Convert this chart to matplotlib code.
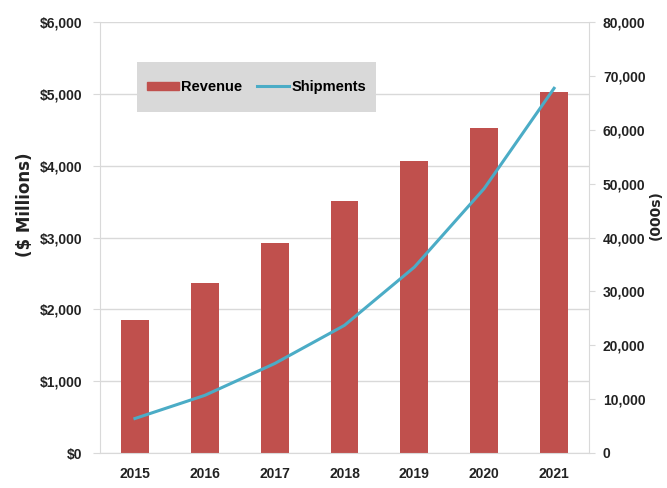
import matplotlib.pyplot as plt
from matplotlib import font_manager
from matplotlib.ticker import FuncFormatter
from matplotlib.lines import Line2D
from matplotlib.patches import Patch, Rectangle

# --- DATA ---
years = ["2015", "2016", "2017", "2018", "2019", "2020", "2021"]
revenue = [1850, 2360, 2925, 3505, 4060, 4530, 5025]          # $ millions
shipments = [6400, 10700, 16600, 23700, 34500, 49100, 67700]  # 000s

BAR_COLOR = "#C0504D"
LINE_COLOR = "#4BACC6"
GRID_COLOR = "#D9D9D9"
TEXT_COLOR = "#222222"
W, H = 667, 488

# narrow font if we have one, otherwise a smaller regular one
names = {f.name for f in font_manager.fontManager.ttflist}
if 'Liberation Sans Narrow' in names:
    FONT, TICK_SIZE, LEG_SIZE = 'Liberation Sans Narrow', 11, 12
else:
    FONT, TICK_SIZE, LEG_SIZE = 'Liberation Sans', 10, 10.5
plt.rcParams['font.family'] = [FONT, 'DejaVu Sans']

fig = plt.figure(figsize=(W / 100, H / 100), dpi=100)
ax = fig.add_axes([100 / W, 35 / H, 489 / W, 431 / H])
ax2 = ax.twinx()

x = range(len(years))
ax.bar(x, revenue, width=0.4, color=BAR_COLOR, zorder=2)
ax2.plot(x, shipments, color=LINE_COLOR, linewidth=2.2, zorder=3)

ax.set_xlim(-0.5, 6.5)
ax.set_ylim(0, 6000)
ax.set_yticks(range(0, 6001, 1000))
ax.yaxis.set_major_formatter(FuncFormatter(lambda v, p: f"${int(v):,}"))
ax2.set_ylim(0, 80000)
ax2.set_yticks(range(0, 80001, 10000))
ax2.yaxis.set_major_formatter(FuncFormatter(lambda v, p: f"{int(v):,}"))

ax.set_xticks(list(x))
ax.set_xticklabels(years)

ax.grid(axis='y', color=GRID_COLOR, linewidth=1, zorder=0)
ax.set_axisbelow(True)

for a in (ax, ax2):
    for s in a.spines.values():
        s.set_visible(False)
ax.spines['left'].set_visible(True)
ax.spines['left'].set_color(GRID_COLOR)
ax.spines['bottom'].set_visible(True)
ax.spines['bottom'].set_color(GRID_COLOR)
ax2.spines['right'].set_visible(True)
ax2.spines['right'].set_color(GRID_COLOR)

ax.tick_params(axis='y', length=5, color=GRID_COLOR, labelsize=TICK_SIZE, labelcolor=TEXT_COLOR, pad=8)
ax.tick_params(axis='x', length=0, labelsize=TICK_SIZE, labelcolor=TEXT_COLOR, pad=10)
ax2.tick_params(axis='y', length=4, color=GRID_COLOR, labelsize=TICK_SIZE, labelcolor=TEXT_COLOR, pad=6)

for lbl in ax.get_xticklabels() + ax.get_yticklabels() + ax2.get_yticklabels():
    lbl.set_fontweight('bold')

fig.text(25 / W, 0.58, "($ Millions)", rotation=90, ha='center', va='center',
         fontsize=12, fontweight='bold', color=TEXT_COLOR, family='DejaVu Sans')
fig.text(656 / W, 0.56, "(000s)", rotation=90, ha='center', va='center',
         fontsize=10, fontweight='bold', color=TEXT_COLOR, family='DejaVu Sans')

# legend: grey box drawn by hand so its padding matches the reference
box = (137, 62, 376, 112)  # x0, y0 (top), x1, y1 (bottom) in pixels
ax2.add_patch(Rectangle((box[0] / W, 1 - box[3] / H), (box[2] - box[0]) / W,
                        (box[3] - box[1]) / H, transform=fig.transFigure,
                        facecolor="#D9D9D9", edgecolor="none", zorder=4))
handles = [Patch(color=BAR_COLOR, label="Revenue"),
           Line2D([0], [0], color=LINE_COLOR, linewidth=2.2, label="Shipments")]
leg = ax2.legend(handles=handles, loc='center',
                 bbox_to_anchor=((box[0] + box[2]) / 2 / W, 1 - (box[1] + box[3]) / 2 / H),
                 bbox_transform=fig.transFigure,
                 ncol=2, frameon=False, handlelength=2.2, handleheight=0.45,
                 columnspacing=1.0, handletextpad=0.15, borderpad=0, borderaxespad=0,
                 prop={'size': LEG_SIZE, 'weight': 'bold'})
leg.set_zorder(5)

fig.savefig("out.png", dpi=100)
